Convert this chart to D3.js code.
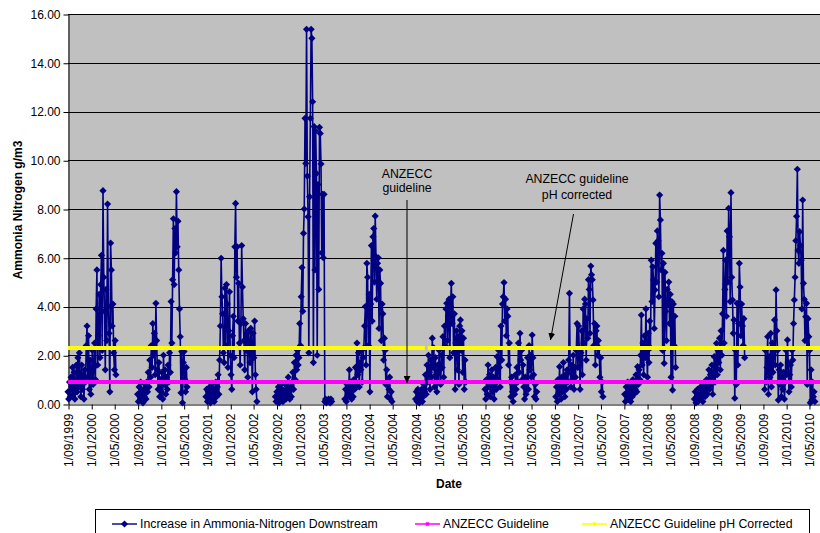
<!DOCTYPE html>
<html>
<head>
<meta charset="utf-8">
<script src="https://cdn.jsdelivr.net/npm/d3@7"></script>
<style>
  body { margin: 0; background: #fff; }
  svg { display: block; }
  text { font-family: "Liberation Sans", Arial, sans-serif; fill: #000; }
</style>
</head>
<body>
<svg id="chart" width="820" height="533"></svg>
<script>
// Daily-sampled monitoring seasons (one reading every 4 days from each season's start)
const seasonStarts = ["1999-09-01", "2000-09-01", "2001-08-26", "2002-08-26", "2003-08-26",
  "2004-09-01", "2005-09-01", "2006-09-08", "2007-09-05", "2008-09-06", "2009-09-10"];
const sampleStepDays = 4;

const season1999 = [0.5,0.2,0.9,0.3,1.1,0.6,1.5,0.4,1.3,0.2,0.8,1.6,0.5,1.9,0.7,2.1,1.0,0.3,1.6,0.6,
  1.2,0.2,1.4,0.9,2.4,3.2,1.1,2.8,0.6,1.8,0.4,1.3,2.2,0.8,1.5,2.5,1.0,3.9,5.5,1.6,
  2.8,4.5,1.9,4.9,6.1,2.2,8.75,5.2,3.8,1.4,4.7,2.6,8.2,4.0,2.9,0.5,6.6,5.5,3.2,4.1,
  2.1,1.4,2.6,1.2];
const season2000 = [0.4,0.1,0.7,0.3,0.9,0.2,0.5,0.05,0.6,0.3,0.8,0.2,0.9,0.5,1.3,0.7,1.8,1.1,2.4,1.5,
  3.3,2.0,2.9,1.2,4.13,2.6,1.4,0.6,1.7,0.3,1.0,0.5,1.3,0.2,2.0,0.8,1.4,0.4,1.1,0.6,
  1.6,0.9,2.1,1.3,4.2,2.5,5.1,7.6,4.9,7.2,6.2,8.71,6.45,7.5,5.5,3.9,2.76,0.46,2.15,0.05,
  1.7,2.15,1.0,0.5,1.5,0.7];
const season2001 = [0.3,0.6,0.1,0.5,0.2,0.7,0.05,0.4,0.8,0.2,0.6,0.1,0.5,0.9,0.3,0.7,1.2,0.4,1.8,3.2,
  5.98,4.4,3.7,2.1,1.7,4.75,2.4,4.9,4.1,1.5,3.0,4.6,2.0,1.2,0.6,2.8,3.6,1.9,6.45,8.23,
  5.2,6.45,3.4,4.95,2.5,1.6,3.3,6.5,4.8,3.5,2.6,1.4,3.3,2.2,2.9,1.1,3.0,2.4,1.7,3.1,
  2.5,0.5,2.9,1.9,3.4,1.2,0.6,0.1];
const season2002 = [0.3,0.1,0.5,0.2,0.7,0.05,0.4,0.8,0.2,0.6,0.1,0.5,0.3,0.8,0.2,0.6,0.4,1.1,0.5,0.2,
  0.7,0.3,0.9,1.3,0.6,1.7,1.0,2.0,1.4,2.2,1.6,1.9,3.3,2.4,4.4,5.6,3.8,7.0,8.0,11.72,
  9.87,15.37,9.35,7.68,2.1,8.5,11.72,15.37,15.0,12.4,1.7,11.38,5.5,11.2,9.46,2.0,9.0,4.7,11.35,11.1,
  9.85,6.2,8.6,6.0,8.6,0.1,0.2,0.05,0.15,0.1,0.2,0.1,0.05,0.2,0.1];
const season2003 = [0.2,0.6,0.1,0.8,0.3,0.5,1.4,0.4,0.9,0.2,0.7,0.3,1.0,0.6,1.5,0.8,2.5,1.2,2.1,0.7,
  1.7,1.4,2.2,0.9,1.9,2.3,3.2,4.0,1.6,5.77,5.2,2.4,4.5,0.5,4.1,6.5,3.4,6.86,7.2,5.0,
  7.71,6.04,4.3,5.77,6.0,3.1,5.5,4.95,2.6,4.1,3.7,1.8,2.7,2.2,0.8,1.4,0.3,0.9,0.6,1.1,
  0.2,0.5,0.1];
const season2004 = [0.2,0.5,0.1,0.6,0.3,0.05,0.4,0.2,0.6,0.1,0.3,0.8,0.5,1.2,0.4,1.6,0.9,2.0,1.3,0.6,
  1.8,1.1,2.7,1.5,2.3,0.7,1.9,1.2,0.5,1.6,0.9,2.2,1.4,0.8,2.0,1.5,2.76,1.1,3.2,2.4,
  3.9,4.13,2.6,3.6,4.3,1.9,4.0,4.95,3.3,4.4,2.1,3.7,0.6,2.5,3.0,1.4,2.76,0.8,3.2,3.45,
  2.2,3.0,1.3,2.7,0.6,1.8,0.9];
const season2005 = [0.6,0.2,1.0,0.4,1.6,0.7,1.2,0.3,0.9,1.4,0.5,1.1,0.2,0.8,1.5,0.6,1.94,1.0,2.2,1.5,
  0.7,3.2,1.8,4.1,4.4,4.98,3.4,4.3,2.8,3.9,3.6,1.6,2.5,0.9,0.3,1.1,0.5,0.1,0.8,0.4,
  1.2,0.6,1.5,0.9,2.5,1.3,2.9,1.8,2.2,1.0,1.6,0.7,0.2,1.1,0.4,0.9,1.9,0.6,2.4,1.4,
  2.0,1.1,2.83,1.9,1.2,0.3,0.8,0.2,0.5];
const season2006 = [0.3,0.7,0.1,1.0,0.4,1.53,0.6,0.2,1.1,0.5,1.7,0.8,0.3,1.2,0.6,1.4,0.9,1.8,4.54,1.3,
  0.7,1.6,1.0,2.0,0.6,1.5,1.1,2.2,3.3,1.5,3.2,2.2,0.6,2.1,3.0,1.2,3.9,2.5,4.3,4.1,
  1.8,3.5,2.7,5.1,4.7,2.9,5.66,5.3,5.1,4.27,2.4,3.3,1.6,3.0,3.2,2.0,2.6,2.3,1.1,1.9,
  0.5,0.9,0.3];
const season2007 = [0.4,0.1,0.7,0.3,0.9,0.2,0.5,0.8,0.1,0.6,0.3,1.0,0.4,0.9,0.6,1.2,0.5,1.53,0.8,1.4,
  1.0,2.0,3.65,1.6,2.5,1.2,2.8,1.9,3.9,2.2,1.1,2.9,1.7,3.4,2.3,5.9,4.2,5.63,5.09,3.1,
  4.68,6.59,5.0,7.1,6.7,4.4,8.57,7.55,5.5,6.18,2.2,5.77,1.67,5.4,3.8,2.6,4.7,4.1,5.0,3.3,
  4.5,1.1,4.2,0.57,4.1,2.4,3.6,1.5];
const season2008 = [0.2,0.5,0.05,0.3,0.6,0.1,0.4,0.2,0.7,0.3,0.57,0.1,0.5,0.8,0.3,0.6,1.0,0.4,0.9,1.4,
  0.6,1.2,0.8,1.6,0.4,1.1,1.94,0.9,1.5,2.49,1.2,2.2,1.7,2.7,1.4,3.0,2.0,3.7,6.3,2.5,
  4.7,5.9,3.6,7.1,5.0,8.03,6.86,4.2,8.67,5.2,4.27,2.9,3.45,0.24,2.2,0.8,4.13,1.6,3.3,5.77,
  4.8,2.8,4.1,3.2,2.4,3.5,1.9];
const season2009 = [0.6,2.2,0.9,1.5,2.76,0.4,1.94,1.1,2.9,0.7,2.5,1.3,2.0,3.45,1.6,4.68,3.0,2.2,0.16,1.4,
  0.8,1.6,0.3,1.1,0.6,1.3,0.2,0.9,2.2,1.2,2.63,1.7,0.5,1.2,1.6,0.7,2.2,1.8,3.3,4.27,
  5.2,6.7,7.7,9.63,6.3,5.77,7.07,6.5,5.9,3.9,8.37,4.95,4.3,2.6,3.58,4.13,0.8,3.5,2.76,2.2,
  0.05,1.4,0.16,0.9,0.3,0.5,0.1];

const seasonValues = [season1999, season2000, season2001, season2002, season2003, season2004,
  season2005, season2006, season2007, season2008, season2009];

// Guideline levels (g/m3) and the periods they are plotted for
const guidelineValue = 0.9;
const guidelinePhValue = 2.3;
const guidelineSpans = [["1999-09-01", "2004-10-20"], ["2004-11-04", "2010-06-28"]];

const yTickValues = [0, 2, 4, 6, 8, 10, 12, 14, 16];
const axisStart = "1999-09-01";
const axisEnd = "2010-06-28";

const seriesNames = ["Increase in Ammonia-Nitrogen Downstream", "ANZECC Guideline", "ANZECC Guideline pH Corrected"];
const seriesColors = ["#000080", "#FF00FF", "#FFFF00"];

// ---- layout ----
const plot = { left: 68, right: 820, top: 14, bottom: 404 };
const parse = d3.timeParse("%Y-%m-%d");
const fmt = d3.timeFormat("%-d/%m/%Y");

const svg = d3.select("#chart");

const x = d3.scaleTime().domain([parse(axisStart), parse(axisEnd)]).range([plot.left, plot.right]);
const y = d3.scaleLinear().domain([0, 16]).range([plot.bottom, plot.top]);

const xTickDates = d3.timeMonth.every(4).range(parse(axisStart), parse("2010-05-02"));

// plot background
svg.append("rect")
  .attr("x", plot.left).attr("y", plot.top)
  .attr("width", plot.right - plot.left).attr("height", plot.bottom - plot.top)
  .attr("fill", "#C0C0C0");

// horizontal gridlines
svg.append("g")
  .selectAll("line")
  .data(yTickValues.filter(v => v > 0))
  .join("line")
  .attr("x1", plot.left).attr("x2", plot.right)
  .attr("y1", d => Math.round(y(d)) + 0.5).attr("y2", d => Math.round(y(d)) + 0.5)
  .attr("stroke", "#000").attr("stroke-width", 1);

// y axis
const yAxis = svg.append("g")
  .attr("transform", `translate(${plot.left + 0.5},0.5)`)
  .call(d3.axisLeft(y).tickValues(yTickValues).tickFormat(d3.format(".2f")).tickSize(5).tickSizeOuter(0));
yAxis.select(".domain").attr("stroke", "#000");
yAxis.selectAll(".tick line").attr("stroke", "#000");
yAxis.selectAll(".tick text")
  .attr("x", -8)
  .style("font-size", "12px")
  .style("font-family", '"Liberation Sans", Arial, sans-serif')
  .attr("fill", "#000");

// x axis
const xAxis = svg.append("g")
  .attr("transform", `translate(0.5,${plot.bottom + 0.5})`)
  .call(d3.axisBottom(x).tickValues(xTickDates).tickFormat(fmt).tickSize(5).tickSizeOuter(0));
xAxis.select(".domain").attr("stroke", "#000");
xAxis.selectAll(".tick line").attr("stroke", "#000");
xAxis.selectAll(".tick text")
  .attr("transform", "rotate(-90)")
  .attr("x", -9)
  .attr("y", 0)
  .attr("dy", "0.35em")
  .attr("text-anchor", "end")
  .style("font-size", "12px")
  .style("font-family", '"Liberation Sans", Arial, sans-serif')
  .attr("fill", "#000");

// series points
const seasons = seasonValues.map((vals, k) => {
  const start = parse(seasonStarts[k]);
  return vals.map((v, i) => ({ date: d3.timeDay.offset(start, i * sampleStepDays), value: v }));
});

const line = d3.line().x(d => x(d.date)).y(d => y(d.value));
const diamond = d3.symbol().type(d3.symbolSquare).size(26);

const seriesG = svg.append("g");
seriesG.selectAll("path.season")
  .data(seasons)
  .join("path")
  .attr("class", "season")
  .attr("d", line)
  .attr("fill", "none")
  .attr("stroke", seriesColors[0])
  .attr("stroke-width", 1.6)
  .attr("stroke-linejoin", "round");

seriesG.selectAll("path.marker")
  .data(seasons.flat())
  .join("path")
  .attr("class", "marker")
  .attr("d", diamond)
  .attr("transform", d => `translate(${x(d.date)},${y(d.value)}) rotate(45)`)
  .attr("fill", seriesColors[0]);

// guideline lines
const guideG = svg.append("g");
[[guidelineValue, seriesColors[1]], [guidelinePhValue, seriesColors[2]]].forEach(([val, col]) => {
  guideG.selectAll(null)
    .data(guidelineSpans)
    .join("line")
    .attr("x1", d => x(parse(d[0]))).attr("x2", d => x(parse(d[1])))
    .attr("y1", y(val)).attr("y2", y(val))
    .attr("stroke", col).attr("stroke-width", 4);
});

// annotations
svg.append("defs").append("marker")
  .attr("id", "arrowhead")
  .attr("viewBox", "0 0 10 10")
  .attr("refX", 10).attr("refY", 5)
  .attr("markerWidth", 7).attr("markerHeight", 7)
  .attr("markerUnits", "userSpaceOnUse")
  .attr("orient", "auto")
  .append("path").attr("d", "M0,0L10,5L0,10Z").attr("fill", "#000");

const noteG = svg.append("g").style("font-size", "12.3px");
noteG.append("text").attr("x", 407).attr("y", 177.5).attr("text-anchor", "middle").text("ANZECC");
noteG.append("text").attr("x", 407).attr("y", 192).attr("text-anchor", "middle").text("guideline");
noteG.append("line")
  .attr("x1", 407).attr("y1", 200).attr("x2", 407).attr("y2", y(guidelineValue) + 1)
  .attr("stroke", "#000").attr("stroke-width", 1).attr("marker-end", "url(#arrowhead)");

noteG.append("text").attr("x", 577).attr("y", 183.3).attr("text-anchor", "middle").text("ANZECC guideline");
noteG.append("text").attr("x", 577).attr("y", 198.7).attr("text-anchor", "middle").text("pH corrected");
noteG.append("line")
  .attr("x1", 573.5).attr("y1", 214).attr("x2", 550.5).attr("y2", 340)
  .attr("stroke", "#000").attr("stroke-width", 1).attr("marker-end", "url(#arrowhead)");

// axis titles
svg.append("text")
  .attr("x", 449).attr("y", 488)
  .attr("text-anchor", "middle")
  .style("font-size", "12px").style("font-weight", "bold")
  .text("Date");

svg.append("text")
  .attr("transform", "translate(22,210) rotate(-90)")
  .attr("text-anchor", "middle")
  .style("font-size", "12px").style("font-weight", "bold")
  .text("Ammonia Nitrogen g/m3");

// legend
const legend = svg.append("g");
legend.append("rect")
  .attr("x", 95.5).attr("y", 509.5).attr("width", 714).attr("height", 40)
  .attr("fill", "#fff").attr("stroke", "#000").attr("stroke-width", 1);

const legendItems = [
  { name: seriesNames[0], color: seriesColors[0], x0: 112, marker: "diamond" },
  { name: seriesNames[1], color: seriesColors[1], x0: 415, marker: "square" },
  { name: seriesNames[2], color: seriesColors[2], x0: 582, marker: "square" }
];
const ly = 524;
legendItems.forEach(it => {
  legend.append("line")
    .attr("x1", it.x0).attr("x2", it.x0 + 25).attr("y1", ly).attr("y2", ly)
    .attr("stroke", it.color).attr("stroke-width", it.marker === "diamond" ? 1.4 : 1.5);
  if (it.marker === "diamond") {
    legend.append("path").attr("d", diamond)
      .attr("transform", `translate(${it.x0 + 12.5},${ly}) rotate(45)`)
      .attr("fill", it.color);
  } else {
    legend.append("path").attr("d", d3.symbol().type(d3.symbolSquare).size(12))
      .attr("transform", `translate(${it.x0 + 12.5},${ly})`)
      .attr("fill", it.color);
  }
  legend.append("text")
    .attr("x", it.x0 + 28).attr("y", ly + 4.3)
    .style("font-size", "12.3px")
    .text(it.name);
});
</script>
</body>
</html>
